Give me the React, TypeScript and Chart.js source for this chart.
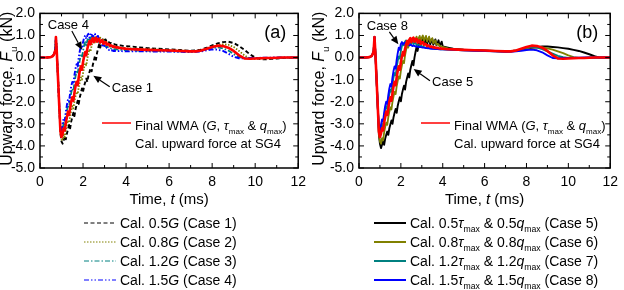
import { useEffect, useRef } from "react";
import { Chart, registerables } from "chart.js";

Chart.register(...registerables);

const FONT = '"Liberation Sans", Arial, Helvetica, sans-serif';

// Shared start of every record: quiet baseline, short positive spike, steep drop
const onsetTime = [0, 0.3, 0.5, 0.6, 0.66, 0.7, 0.74, 0.78, 0.84, 0.9];
const onsetForce = [0, 0, 0.02, 0.07, 0.17, 0.3, 0.93, 0.25, -1.0, -2.3];

// Dense sampling over the recovery from the minimum (ms)
const riseTime = [
  0.95, 1.0, 1.05, 1.1, 1.15, 1.2, 1.25, 1.3, 1.35, 1.4,
  1.45, 1.5, 1.55, 1.6, 1.65, 1.7, 1.75, 1.8, 1.85, 1.9,
  1.95, 2.0, 2.05, 2.1, 2.15, 2.2, 2.25, 2.3, 2.35, 2.4,
  2.45, 2.5, 2.55, 2.6, 2.65, 2.7, 2.75, 2.8, 2.85, 2.9,
  2.95, 3.0, 3.05, 3.1, 3.15, 3.2, 3.25, 3.3, 3.35, 3.4,
  3.45, 3.5, 3.55, 3.6, 3.65, 3.7, 3.75, 3.8, 3.85, 3.9,
  3.95, 4.0,
];

// Coarser sampling for the slow decay and the second hump (ms)
const tailTime = [
  4.25, 4.5, 5, 5.5, 6, 6.5, 7, 7.25, 7.5, 7.75,
  8, 8.25, 8.5, 8.75, 9, 9.25, 9.5, 9.75, 10, 10.25,
  10.5, 10.75, 11, 11.25, 11.5, 12,
];

// Final WMA (G, tau_max & q_max)
const finalRise = [
  -3.35, -3.6, -3.45, -3.2, -3.3, -2.95, -2.7, -2.45, -2.6, -2.3,
  -2.0, -1.8, -1.95, -1.6, -1.3, -1.1, -1.25, -0.9, -0.6, -0.4,
  -0.55, -0.2, 0.05, 0.25, 0.1, 0.4, 0.6, 0.75, 0.6, 0.8,
  0.88, 0.7, 0.85, 0.9, 0.72, 0.82, 0.85, 0.68, 0.75, 0.78,
  0.62, 0.68, 0.7, 0.58, 0.62, 0.6, 0.52, 0.55, 0.53, 0.48,
  0.5, 0.48, 0.45, 0.47, 0.44, 0.43, 0.44, 0.42, 0.41, 0.42,
  0.4, 0.4,
];
const finalTail = [
  0.38, 0.37, 0.35, 0.33, 0.32, 0.3, 0.28, 0.28, 0.32, 0.4,
  0.48, 0.54, 0.52, 0.45, 0.3, 0.1, -0.04, -0.05, -0.04, -0.03,
  -0.02, -0.02, -0.01, 0, 0, 0,
];

// Case 1: 0.5G
const case1Rise = [
  -3.45, -3.8, -3.9, -3.75, -3.55, -3.7, -3.45, -3.25, -3.05, -3.2,
  -2.9, -2.7, -2.5, -2.65, -2.35, -2.15, -1.95, -2.1, -1.8, -1.6,
  -1.4, -1.55, -1.3, -1.12, -0.95, -1.1, -0.82, -0.65, -0.48, -0.62,
  -0.35, -0.15, 0.05, -0.1, 0.2, 0.42, 0.6, 0.45, 0.7, 0.82,
  0.72, 0.8, 0.82, 0.7, 0.72, 0.7, 0.64, 0.66, 0.63, 0.6,
  0.61, 0.59, 0.57, 0.58, 0.56, 0.55, 0.55, 0.54, 0.53, 0.53,
  0.52, 0.52,
];
const case1Tail = [
  0.5, 0.47, 0.43, 0.4, 0.37, 0.34, 0.31, 0.32, 0.36, 0.45,
  0.55, 0.64, 0.7, 0.72, 0.66, 0.52, 0.35, 0.15, 0.0, -0.08,
  -0.08, -0.06, -0.04, -0.02, -0.01, 0,
];

// Case 2: 0.8G
const case2Rise = [
  -3.4, -3.7, -3.75, -3.5, -3.6, -3.3, -3.05, -2.85, -2.95, -2.65,
  -2.4, -2.2, -2.3, -2.0, -1.75, -1.55, -1.65, -1.35, -1.1, -0.9,
  -1.0, -0.7, -0.45, -0.25, -0.35, -0.05, 0.2, 0.38, 0.28, 0.55,
  0.72, 0.82, 0.68, 0.82, 0.9, 0.75, 0.85, 0.9, 0.75, 0.8,
  0.82, 0.68, 0.72, 0.7, 0.6, 0.62, 0.6, 0.54, 0.55, 0.53,
  0.5, 0.5, 0.48, 0.47, 0.47, 0.45, 0.45, 0.44, 0.44, 0.43,
  0.43, 0.42,
];
const case2Tail = [
  0.41, 0.4, 0.38, 0.36, 0.34, 0.32, 0.3, 0.3, 0.33, 0.4,
  0.5, 0.57, 0.6, 0.58, 0.48, 0.3, 0.1, -0.04, -0.06, -0.05,
  -0.04, -0.03, -0.02, -0.01, 0, 0,
];

// Case 3: 1.2G
const case3Rise = [
  -3.3, -3.45, -3.25, -2.95, -3.05, -2.7, -2.4, -2.15, -2.25, -1.9,
  -1.6, -1.4, -1.5, -1.15, -0.85, -0.65, -0.75, -0.4, -0.1, 0.1,
  0.0, 0.3, 0.55, 0.7, 0.55, 0.78, 0.9, 0.75, 0.88, 0.95,
  0.78, 0.9, 0.92, 0.75, 0.85, 0.85, 0.68, 0.72, 0.7, 0.58,
  0.6, 0.58, 0.5, 0.52, 0.48, 0.44, 0.45, 0.42, 0.4, 0.41,
  0.38, 0.38, 0.37, 0.36, 0.36, 0.35, 0.35, 0.35, 0.34, 0.34,
  0.34, 0.33,
];
const case3Tail = [
  0.33, 0.32, 0.31, 0.3, 0.29, 0.28, 0.27, 0.28, 0.31, 0.37,
  0.43, 0.46, 0.42, 0.32, 0.16, 0.02, -0.04, -0.04, -0.03, -0.02,
  -0.02, -0.01, -0.01, 0, 0, 0,
];

// Case 4: 1.5G
const case4Rise = [
  -3.2, -3.3, -3.0, -2.75, -2.85, -2.45, -2.15, -1.9, -2.0, -1.6,
  -1.3, -1.1, -1.2, -0.8, -0.5, -0.3, -0.4, 0.0, 0.3, 0.5,
  0.4, 0.7, 0.9, 1.0, 0.85, 1.0, 1.08, 0.9, 1.02, 1.1,
  0.92, 1.05, 1.08, 0.85, 0.95, 0.98, 0.75, 0.8, 0.7, 0.55,
  0.6, 0.5, 0.42, 0.45, 0.38, 0.35, 0.37, 0.32, 0.33, 0.3,
  0.31, 0.3, 0.29, 0.3, 0.29, 0.29, 0.3, 0.29, 0.28, 0.29,
  0.28, 0.28,
];
const case4Tail = [
  0.28, 0.28, 0.28, 0.27, 0.27, 0.26, 0.25, 0.26, 0.28, 0.33,
  0.37, 0.36, 0.3, 0.18, 0.03, -0.03, -0.03, -0.02, -0.02, -0.01,
  -0.01, 0, 0, 0, 0, 0,
];

// Case 5: 0.5 tau_max & 0.5 q_max
const case5Rise = [
  -3.5, -3.9, -4.1, -3.95, -3.8, -3.95, -3.68, -3.5, -3.35, -3.5,
  -3.2, -3.02, -2.85, -3.0, -2.7, -2.5, -2.33, -2.5, -2.18, -1.98,
  -1.8, -1.98, -1.65, -1.45, -1.27, -1.45, -1.1, -0.9, -0.72, -0.9,
  -0.55, -0.35, -0.15, -0.35, 0.0, 0.25, 0.48, 0.3, 0.6, 0.8,
  0.6, 0.75, 0.88, 0.6, 0.72, 0.85, 0.6, 0.75, 0.9, 0.6,
  0.72, 0.85, 0.58, 0.7, 0.82, 0.55, 0.65, 0.78, 0.52, 0.62,
  0.72, 0.5,
];
const case5Tail = [
  0.45, 0.4, 0.36, 0.34, 0.32, 0.3, 0.28, 0.29, 0.32, 0.36,
  0.4, 0.44, 0.47, 0.5, 0.5, 0.48, 0.46, 0.43, 0.4, 0.35,
  0.3, 0.23, 0.15, 0.06, 0.0, 0,
];

// Case 6: 0.8 tau_max & 0.8 q_max
const case6Rise = [
  -3.45, -3.8, -3.9, -3.65, -3.75, -3.4, -3.15, -2.95, -3.05, -2.7,
  -2.45, -2.25, -2.35, -2.0, -1.75, -1.55, -1.65, -1.3, -1.05, -0.85,
  -0.95, -0.6, -0.35, -0.15, -0.25, 0.1, 0.35, 0.55, 0.45, 0.7,
  0.82, 0.65, 0.8, 0.9, 0.7, 0.85, 0.95, 0.72, 0.88, 0.98,
  0.75, 0.9, 1.0, 0.75, 0.88, 0.98, 0.72, 0.85, 0.95, 0.7,
  0.8, 0.88, 0.65, 0.72, 0.78, 0.58, 0.62, 0.6, 0.52, 0.52,
  0.5, 0.48,
];
const case6Tail = [
  0.42, 0.38, 0.35, 0.33, 0.31, 0.29, 0.28, 0.29, 0.32, 0.37,
  0.42, 0.46, 0.47, 0.46, 0.42, 0.36, 0.28, 0.2, 0.1, 0.02,
  -0.01, -0.01, 0, 0, 0, 0,
];

// Case 7: 1.2 tau_max & 1.2 q_max
const case7Rise = [
  -3.3, -3.5, -3.3, -3.0, -3.1, -2.75, -2.45, -2.2, -2.3, -1.95,
  -1.65, -1.45, -1.55, -1.2, -0.9, -0.7, -0.8, -0.45, -0.15, 0.05,
  -0.05, 0.3, 0.52, 0.65, 0.55, 0.72, 0.78, 0.62, 0.72, 0.78,
  0.62, 0.7, 0.74, 0.6, 0.66, 0.68, 0.56, 0.6, 0.6, 0.52,
  0.54, 0.52, 0.48, 0.48, 0.46, 0.45, 0.44, 0.43, 0.43, 0.42,
  0.41, 0.41, 0.4, 0.4, 0.39, 0.39, 0.38, 0.38, 0.38, 0.37,
  0.37, 0.37,
];
const case7Tail = [
  0.36, 0.35, 0.33, 0.31, 0.3, 0.28, 0.27, 0.28, 0.31, 0.38,
  0.45, 0.48, 0.45, 0.38, 0.28, 0.18, 0.08, 0.02, -0.01, -0.02,
  -0.01, -0.01, 0, 0, 0, 0,
];

// Case 8: 1.5 tau_max & 1.5 q_max
const case8Rise = [
  -3.2, -3.3, -3.05, -2.8, -2.9, -2.5, -2.2, -2.0, -2.1, -1.7,
  -1.4, -1.2, -1.3, -0.9, -0.6, -0.4, -0.5, -0.1, 0.2, 0.45,
  0.35, 0.62, 0.7, 0.6, 0.65, 0.68, 0.58, 0.62, 0.63, 0.55,
  0.58, 0.57, 0.52, 0.54, 0.53, 0.5, 0.51, 0.5, 0.48, 0.48,
  0.47, 0.46, 0.45, 0.45, 0.44, 0.43, 0.43, 0.42, 0.42, 0.41,
  0.41, 0.4, 0.4, 0.4, 0.39, 0.39, 0.39, 0.38, 0.38, 0.38,
  0.37, 0.37,
];
const case8Tail = [
  0.36, 0.35, 0.33, 0.31, 0.3, 0.28, 0.26, 0.26, 0.28, 0.31,
  0.34, 0.36, 0.33, 0.24, 0.1, -0.02, -0.03, -0.02, -0.02, -0.01,
  -0.01, 0, 0, 0, 0, 0,
];

const xTicks = [0, 2, 4, 6, 8, 10, 12];
const yTicks = [-5, -4, -3, -2, -1, 0, 1, 2];
const factors = ["0.5", "0.8", "1.2", "1.5"];

const RED = "#ff0000";
const BLACK = "#000000";
const OLIVE = "#808000";
const TEAL = "#008080";
const BLUE = "#0000ff";

type Run = { t: string; it?: boolean; sub?: boolean };
type Series = { color: string; width: number; dash: number[]; rise: number[]; tail: number[] };
type KeyRow = { runs: Run[]; color: string; dash: number[]; width: number };
type Note = { text: string; at: [number, number]; from: [number, number]; to: [number, number] };
type Panel = {
  tag: string;
  offset: number;
  axisWidth: number;
  padRight: number;
  series: Series[];
  notes: Note[];
  keyRows: KeyRow[];
  keyLineX: number;
};

function points(rise: number[], tail: number[]) {
  const pts: { x: number; y: number }[] = [];
  onsetTime.forEach((t, i) => pts.push({ x: t, y: onsetForce[i] }));
  riseTime.forEach((t, i) => pts.push({ x: t, y: rise[i] }));
  tailTime.forEach((t, i) => pts.push({ x: t, y: tail[i] }));
  return pts;
}

const finalSeries: Series = { color: RED, width: 2.6, dash: [], rise: finalRise, tail: finalTail };

const dashA = [
  [4, 2.5],
  [1.5, 1.5],
  [5, 2, 1.5, 2],
  [5, 2, 1.5, 2, 1.5, 2],
];
const colorsA = [BLACK, OLIVE, TEAL, BLUE];

const panelA: Panel = {
  tag: "(a)",
  offset: 0,
  axisWidth: 40,
  padRight: 13,
  series: [
    finalSeries,
    { color: BLUE, width: 1.9, dash: dashA[3], rise: case4Rise, tail: case4Tail },
    { color: TEAL, width: 1.8, dash: dashA[2], rise: case3Rise, tail: case3Tail },
    { color: OLIVE, width: 1.8, dash: dashA[1], rise: case2Rise, tail: case2Tail },
    { color: BLACK, width: 1.9, dash: dashA[0], rise: case1Rise, tail: case1Tail },
  ],
  notes: [
    { text: "Case 4", at: [0.36, 1.47], from: [1.48, 1.2], to: [1.95, 0.35] },
    { text: "Case 1", at: [3.34, -1.41], from: [3.24, -1.32], to: [2.48, -0.82] },
  ],
  keyRows: factors.map((f, i) => ({
    runs: [{ t: "Cal. " + f }, { t: "G", it: true }, { t: " (Case " + (i + 1) + ")" }],
    color: colorsA[i],
    dash: dashA[i],
    width: 1,
  })),
  keyLineX: 44,
};

const colorsB = [BLACK, OLIVE, TEAL, BLUE];

const panelB: Panel = {
  tag: "(b)",
  offset: 312,
  axisWidth: 47,
  padRight: 7,
  series: [
    finalSeries,
    { color: BLUE, width: 1.9, dash: [], rise: case8Rise, tail: case8Tail },
    { color: TEAL, width: 1.8, dash: [], rise: case7Rise, tail: case7Tail },
    { color: OLIVE, width: 1.8, dash: [], rise: case6Rise, tail: case6Tail },
    { color: BLACK, width: 1.9, dash: [], rise: case5Rise, tail: case5Tail },
  ],
  notes: [
    { text: "Case 8", at: [0.37, 1.4], from: [1.45, 1.16], to: [1.88, 0.6] },
    { text: "Case 5", at: [3.49, -1.14], from: [3.39, -1.05], to: [2.61, -0.52] },
  ],
  keyRows: factors.map((f, i) => ({
    runs: [
      { t: "Cal. " + f },
      { t: "τ", it: true },
      { t: "max", sub: true },
      { t: " & " + f },
      { t: "q", it: true },
      { t: "max", sub: true },
      { t: " (Case " + (i + 5) + ")" },
    ],
    color: colorsB[i],
    dash: [],
    width: 2,
  })),
  keyLineX: 15,
};

function runFont(r: Run, size: number) {
  const s = r.sub ? size * 0.62 : size;
  return `${r.it ? "italic " : ""}${s}px ${FONT}`;
}

function drawRuns(
  ctx: CanvasRenderingContext2D,
  runs: Run[],
  x: number,
  baseline: number,
  size: number,
  align: "left" | "center"
) {
  ctx.textBaseline = "alphabetic";
  ctx.textAlign = "left";
  let total = 0;
  for (const r of runs) {
    ctx.font = runFont(r, size);
    total += ctx.measureText(r.t).width;
  }
  let cx = align === "center" ? x - total / 2 : x;
  for (const r of runs) {
    ctx.font = runFont(r, size);
    ctx.fillText(r.t, cx, r.sub ? baseline + size * 0.32 : baseline);
    cx += ctx.measureText(r.t).width;
  }
}

function drawArrow(ctx: CanvasRenderingContext2D, x0: number, y0: number, x1: number, y1: number) {
  const ang = Math.atan2(y1 - y0, x1 - x0);
  const head = 8;
  const half = 3.5;
  const bx = x1 - head * Math.cos(ang);
  const by = y1 - head * Math.sin(ang);
  ctx.beginPath();
  ctx.moveTo(x0, y0);
  ctx.lineTo(bx, by);
  ctx.stroke();
  ctx.beginPath();
  ctx.moveTo(x1, y1);
  ctx.lineTo(bx + half * Math.sin(ang), by - half * Math.cos(ang));
  ctx.lineTo(bx - half * Math.sin(ang), by + half * Math.cos(ang));
  ctx.closePath();
  ctx.fill();
}

function overlay(p: Panel) {
  return {
    id: "overlay",
    afterDraw(chart: Chart) {
      const ctx = chart.ctx;
      const a = chart.chartArea;
      const xs = chart.scales.x;
      const ys = chart.scales.y;
      ctx.save();
      ctx.fillStyle = BLACK;
      ctx.strokeStyle = BLACK;

      // frame with inward ticks on all four sides
      ctx.lineWidth = 1.5;
      ctx.strokeRect(a.left, a.top, a.right - a.left, a.bottom - a.top);
      ctx.lineWidth = 1;
      ctx.beginPath();
      for (let v = 0; v <= 12; v += 1) {
        const x = xs.getPixelForValue(v);
        const len = v % 2 === 0 ? 5 : 3;
        ctx.moveTo(x, a.bottom);
        ctx.lineTo(x, a.bottom - len);
        ctx.moveTo(x, a.top);
        ctx.lineTo(x, a.top + len);
      }
      for (let v = -5; v <= 2; v += 0.5) {
        const y = ys.getPixelForValue(v);
        const len = Number.isInteger(v) ? 5 : 3;
        ctx.moveTo(a.left, y);
        ctx.lineTo(a.left + len, y);
        ctx.moveTo(a.right, y);
        ctx.lineTo(a.right - len, y);
      }
      ctx.stroke();

      // axis titles
      const cx = (a.left + a.right) / 2;
      drawRuns(ctx, [{ t: "Time, " }, { t: "t", it: true }, { t: " (ms)" }], cx, 204, 15, "center");
      ctx.save();
      ctx.translate(12, (a.top + a.bottom) / 2 - 2);
      ctx.rotate(-Math.PI / 2);
      drawRuns(
        ctx,
        [{ t: "Upward force, " }, { t: "F", it: true }, { t: "u", sub: true }, { t: " (kN)" }],
        0,
        0,
        16,
        "center"
      );
      ctx.restore();

      // panel tag
      ctx.font = `18px ${FONT}`;
      ctx.textAlign = "right";
      ctx.textBaseline = "alphabetic";
      ctx.fillText(p.tag, a.right - 12, 38);

      // case callouts
      for (const n of p.notes) {
        ctx.font = `13px ${FONT}`;
        ctx.textAlign = "left";
        ctx.textBaseline = "middle";
        ctx.fillText(n.text, xs.getPixelForValue(n.at[0]), ys.getPixelForValue(n.at[1]));
        ctx.lineWidth = 1.2;
        drawArrow(
          ctx,
          xs.getPixelForValue(n.from[0]),
          ys.getPixelForValue(n.from[1]),
          xs.getPixelForValue(n.to[0]),
          ys.getPixelForValue(n.to[1])
        );
      }

      // in-plot key for the final result
      ctx.strokeStyle = RED;
      ctx.lineWidth = 1.5;
      ctx.beginPath();
      ctx.moveTo(a.left + 62, 123);
      ctx.lineTo(a.left + 91, 123);
      ctx.stroke();
      ctx.fillStyle = BLACK;
      drawRuns(
        ctx,
        [
          { t: "Final WMA (" },
          { t: "G", it: true },
          { t: ", " },
          { t: "τ", it: true },
          { t: "max", sub: true },
          { t: " & " },
          { t: "q", it: true },
          { t: "max", sub: true },
          { t: ")" },
        ],
        a.left + 95,
        129.5,
        13,
        "left"
      );
      drawRuns(ctx, [{ t: "Cal. upward force at SG4" }], a.left + 95, 147.5, 13, "left");

      // key for the parameter cases below the axes
      const rowY = [223, 242, 261, 280];
      p.keyRows.forEach((row, i) => {
        const y = rowY[i];
        ctx.strokeStyle = row.color;
        ctx.lineWidth = row.width;
        ctx.setLineDash(row.dash);
        ctx.beginPath();
        ctx.moveTo(a.left + p.keyLineX, y);
        ctx.lineTo(a.left + p.keyLineX + 32, y);
        ctx.stroke();
        ctx.setLineDash([]);
        ctx.fillStyle = BLACK;
        drawRuns(ctx, row.runs, a.left + p.keyLineX + 36, y + 5, 14, "left");
      });

      ctx.restore();
    },
  };
}

function PanelChart({ panel }: { panel: Panel }) {
  const ref = useRef<HTMLCanvasElement>(null);

  useEffect(() => {
    const canvas = ref.current;
    if (!canvas) return;
    const chart = new Chart(canvas, {
      type: "line",
      data: {
        datasets: panel.series.map((s, i) => ({
          data: points(s.rise, s.tail),
          borderColor: s.color,
          borderWidth: s.width,
          borderDash: s.dash,
          borderJoinStyle: "round",
          pointRadius: 0,
          tension: 0,
          fill: false,
          order: i,
        })),
      },
      options: {
        animation: false,
        responsive: false,
        devicePixelRatio: 1,
        events: [],
        layout: { padding: { left: 0, top: 12, right: panel.padRight, bottom: 92 } },
        plugins: { legend: { display: false }, tooltip: { enabled: false } },
        scales: {
          x: {
            type: "linear",
            min: 0,
            max: 12,
            afterFit: (scale: any) => {
              scale.height = 30;
            },
            afterBuildTicks: (scale: any) => {
              scale.ticks = xTicks.map((v) => ({ value: v }));
            },
            grid: { display: false, drawTicks: false },
            border: { display: false },
            ticks: {
              font: { family: FONT, size: 14 },
              color: BLACK,
              padding: 6,
              maxRotation: 0,
              autoSkip: false,
            },
          },
          y: {
            type: "linear",
            min: -5,
            max: 2,
            afterFit: (scale: any) => {
              scale.width = panel.axisWidth;
            },
            afterBuildTicks: (scale: any) => {
              scale.ticks = yTicks.map((v) => ({ value: v }));
            },
            grid: { display: false, drawTicks: false },
            border: { display: false },
            ticks: {
              font: { family: FONT, size: 14 },
              color: BLACK,
              padding: 5,
              callback: (v: any) => Number(v).toFixed(1),
            },
          },
        },
      },
      plugins: [overlay(panel)],
    });
    return () => chart.destroy();
  }, [panel]);

  return (
    <canvas
      ref={ref}
      width={312}
      height={290}
      style={{ position: "absolute", left: panel.offset, top: 0, width: 312, height: 290 }}
    />
  );
}

export default function App() {
  return (
    <div style={{ position: "absolute", left: 0, top: 0, width: 624, height: 290, background: "#fff" }}>
      <PanelChart panel={panelA} />
      <PanelChart panel={panelB} />
    </div>
  );
}
